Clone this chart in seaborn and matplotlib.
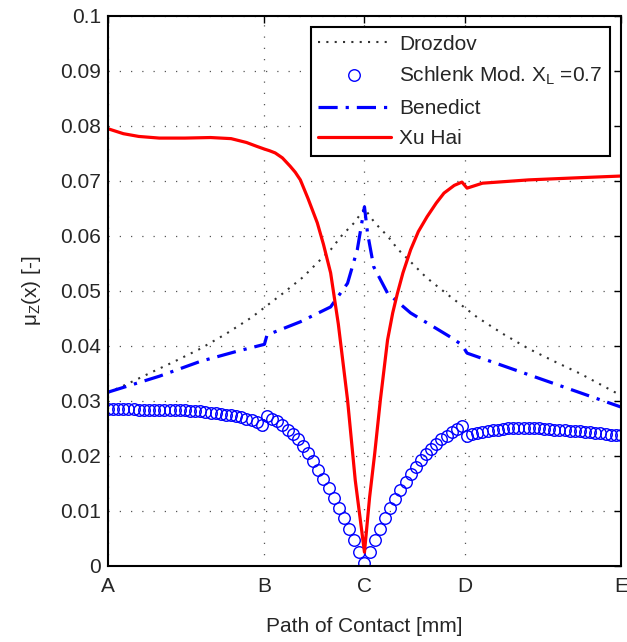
import matplotlib
matplotlib.use("Agg")
import matplotlib.pyplot as plt
from matplotlib import ticker
import numpy as np
import seaborn as sns

# x is the position along the path of contact, A=0 ... E=1
tick_pos = [0.0, 0.305, 0.5, 0.695, 1.0]
tick_labels = ["A", "B", "C", "D", "E"]

drozdov_x = [0.0, 0.04, 0.08, 0.13, 0.18, 0.23, 0.28, 0.34, 0.38, 0.41, 0.435, 0.455, 0.48, 0.5,
             0.52, 0.545, 0.565, 0.59, 0.62, 0.66, 0.72, 0.77, 0.82, 0.87, 0.92, 0.96, 1.0]
drozdov_y = [0.0315, 0.0332, 0.0350, 0.0372, 0.0395, 0.0422, 0.0452, 0.0495, 0.0525, 0.0553, 0.0576,
             0.0600, 0.0624, 0.0650, 0.0624, 0.0600, 0.0576, 0.0553, 0.0525, 0.0495, 0.0452, 0.0422,
             0.0395, 0.0372, 0.0350, 0.0330, 0.0310]

schlenk_x = np.linspace(0, 1, 101)
schlenk_y = [0.0285, 0.0285, 0.0285, 0.0285, 0.0285, 0.0285, 0.0284, 0.0284, 0.0284, 0.0284,
             0.0284, 0.0284, 0.0284, 0.0283, 0.0283, 0.0283, 0.0282, 0.0282, 0.0281, 0.0280,
             0.0279, 0.0278, 0.0277, 0.0275, 0.0274, 0.0272, 0.0270, 0.0267, 0.0265, 0.0262,
             0.0256, 0.0273, 0.0268, 0.0263, 0.0256, 0.0248, 0.0240, 0.0230, 0.0218, 0.0205,
             0.0190, 0.0174, 0.0158, 0.0141, 0.0124, 0.0106, 0.0088, 0.0068, 0.0047, 0.0025,
             0.0005, 0.0025, 0.0048, 0.0068, 0.0087, 0.0105, 0.0122, 0.0138, 0.0153, 0.0167,
             0.0180, 0.0192, 0.0203, 0.0213, 0.0222, 0.0230, 0.0237, 0.0243, 0.0249, 0.0254,
             0.0237, 0.0240, 0.0242, 0.0244, 0.0246, 0.0247, 0.0248, 0.0249, 0.0250, 0.0250,
             0.0250, 0.0250, 0.0250, 0.0250, 0.0250, 0.0249, 0.0249, 0.0248, 0.0248, 0.0247,
             0.0246, 0.0245, 0.0245, 0.0244, 0.0243, 0.0242, 0.0241, 0.0240, 0.0239, 0.0238,
             0.0238]

benedict_x = [0.0, 0.1, 0.18, 0.25, 0.305, 0.31, 0.375, 0.434, 0.467, 0.486, 0.5,
              0.506, 0.518, 0.545, 0.59, 0.668, 0.69, 0.70, 0.85, 1.0]
benedict_y = [0.0316, 0.0345, 0.0372, 0.0390, 0.0403, 0.0420, 0.0444, 0.0471, 0.0514, 0.0575, 0.0653,
              0.0605, 0.0544, 0.0496, 0.0460, 0.0416, 0.0402, 0.0387, 0.0338, 0.0289]

xuhai_x = [0.0, 0.03, 0.06, 0.10, 0.15, 0.20, 0.24, 0.27, 0.29, 0.305, 0.315, 0.326, 0.34, 0.355,
           0.365, 0.375, 0.39, 0.408, 0.42, 0.434, 0.449, 0.467, 0.482, 0.5, 0.51, 0.52, 0.531,
           0.545, 0.555, 0.564, 0.575, 0.59, 0.605, 0.622, 0.64, 0.655, 0.675, 0.69, 0.70, 0.73,
           0.82, 0.92, 1.0]
xuhai_y = [0.0795, 0.0786, 0.0781, 0.0778, 0.0778, 0.0779, 0.0777, 0.0770, 0.0763, 0.0758, 0.0755,
           0.0751, 0.0742, 0.0727, 0.0716, 0.0702, 0.0668, 0.0624, 0.0585, 0.0533, 0.0440, 0.0302,
           0.0156, 0.0025, 0.0125, 0.0205, 0.0302, 0.0411, 0.0460, 0.0495, 0.0533, 0.0575, 0.0608,
           0.0635, 0.0660, 0.0678, 0.0692, 0.0698, 0.0687, 0.0696, 0.0702, 0.0706, 0.0709]

sns.set_theme(style="white")
plt.rcParams["font.family"] = ["Liberation Sans", "DejaVu Sans"]
plt.rcParams["mathtext.fontset"] = "custom"
plt.rcParams["mathtext.rm"] = "Liberation Sans"
plt.rcParams["mathtext.it"] = "Liberation Sans"

fig = plt.figure(figsize=(6.27, 6.42), dpi=100)
ax = fig.add_axes([0.1722, 0.1184, 0.8182, 0.8567])

sns.lineplot(x=drozdov_x, y=drozdov_y, ax=ax, color="#333333", lw=1.5,
             linestyle=(0, (1, 3)), sort=False, label="Drozdov")
sns.lineplot(x=schlenk_x, y=schlenk_y, ax=ax, linestyle="", marker="o", markersize=8.3,
             markerfacecolor="none", markeredgecolor="#0000ff", markeredgewidth=1.0,
             color="#0000ff", sort=False, label="Schlenk Mod. X$_{L}$ =0.7")
sns.lineplot(x=benedict_x, y=benedict_y, ax=ax, color="#0000ff", lw=2.3,
             linestyle=(0, (6, 2.5, 1, 2.5)), sort=False, label="Benedict")
sns.lineplot(x=xuhai_x, y=xuhai_y, ax=ax, color="#ff0000", lw=2.3, sort=False, label="Xu Hai")

ax.set_xlim(0, 1)
ax.set_ylim(0, 0.1)
ax.set_xticks(tick_pos)
ax.set_xticklabels(tick_labels)
ax.set_yticks(np.arange(0, 0.1001, 0.01))
ax.yaxis.set_major_formatter(ticker.FuncFormatter(lambda v, p: f"{round(v, 3):g}"))

ax.grid(True, color="#555555", linestyle=(0, (1, 8)), lw=0.9)
ax.tick_params(direction="in", length=5, width=1, top=True, right=True,
               labelsize=15, colors="#262626")
ax.tick_params(axis="x", pad=8)
ax.tick_params(axis="y", pad=5)
ax.tick_params(axis="both", color="black")
for s in ax.spines.values():
    s.set_color("black")
    s.set_linewidth(1.5)

ax.set_xlabel("Path of Contact [mm]", fontsize=15, color="#262626", labelpad=15)
ax.set_ylabel(r"$\mu_Z$(x) [-]", fontsize=15, color="#262626", labelpad=12)

leg = ax.legend(loc="upper right", fontsize=15, handlelength=3.5, handletextpad=0.4,
                borderaxespad=0.55, labelspacing=0.55, numpoints=1, fancybox=False,
                framealpha=1, borderpad=0.35)
leg.get_frame().set_edgecolor("black")
leg.get_frame().set_linewidth(1.5)
for t in leg.get_texts():
    t.set_color("#262626")

fig.savefig("out.png", dpi=100)
